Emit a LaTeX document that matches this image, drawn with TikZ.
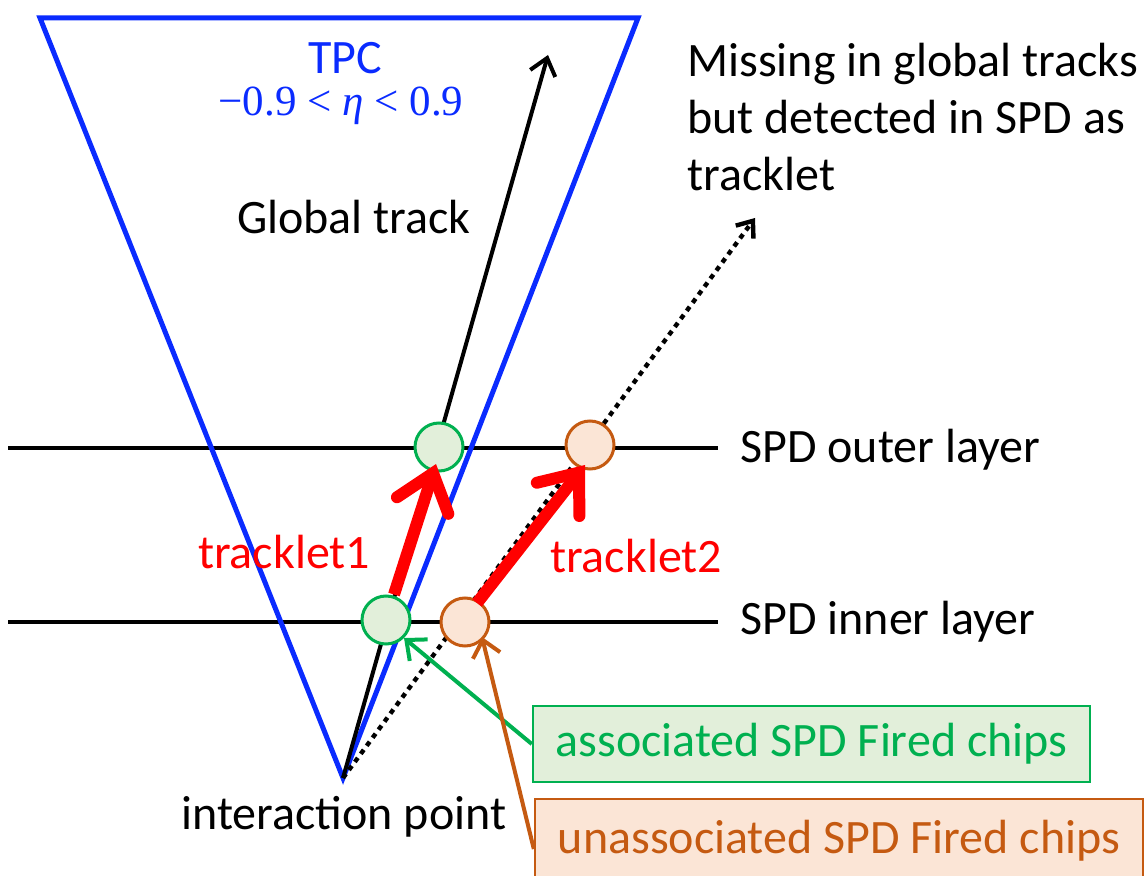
\documentclass[tikz,border=0pt]{standalone}
\usepackage{fontspec}
\setmainfont{Carlito}
\newfontfamily\tms{Liberation Serif}
\usetikzlibrary{arrows.meta}
\definecolor{tpcblue}{HTML}{0A2BFF}
\definecolor{grn}{HTML}{00B050}
\definecolor{grnfill}{HTML}{E2EFDA}
\definecolor{org}{HTML}{C55A11}
\definecolor{orgfill}{HTML}{FBE5D6}
\definecolor{tred}{HTML}{FF0000}
\tikzset{
  layer/.style={line width=2.2pt, black},
  tpc/.style={line width=2.5pt, tpcblue, line join=miter},
  chipg/.style={circle, draw=grn, fill=grnfill, line width=1.5pt, minimum size=24pt, inner sep=0pt},
  chipo/.style={circle, draw=org, fill=orgfill, line width=1.5pt, minimum size=24pt, inner sep=0pt},
  tracklet/.style={line width=6pt, tred, -{Straight Barb[length=17pt, width=27pt, line cap=round]}},
  lbl/.style={font=\fontsize{24}{28.5}\selectfont, inner sep=0pt},
  boxg/.style={draw=grn, fill=grnfill, line width=1.2pt, minimum width=278.5pt, minimum height=38pt, text=grn, font=\fontsize{24}{28.5}\selectfont},
  boxo/.style={draw=org, fill=orgfill, line width=1.2pt, minimum width=304pt, minimum height=42pt, text=org, font=\fontsize{24}{28.5}\selectfont},
}
\begin{document}
\begin{tikzpicture}[x=0.5pt, y=-0.5pt]
\useasboundingbox (0,0) rectangle (1144,876);
% layers
\coordinate (oL) at (8,448); \coordinate (oR) at (718,448);
\coordinate (iL) at (8,622); \coordinate (iR) at (718,622);
\draw[layer] (oL) -- (oR);
\draw[layer] (iL) -- (iR);
% TPC
\coordinate (tl) at (40,18); \coordinate (tr) at (638,18); \coordinate (ip) at (343,778);
\draw[tpc] (tl) -- (tr) -- (ip) -- cycle;
% tracks
\coordinate (gt) at (548,55);
\coordinate (mt) at (755,218);
\draw[line width=2pt, -{Straight Barb[length=8pt, width=13pt]}] (ip) -- (gt);
\draw[line width=2.2pt, dash pattern=on 2.5pt off 2.5pt, -{Straight Barb[length=7pt, width=11pt]}] (ip) -- (mt);
% chips
\node[chipg] (go) at (439,447) {};
\node[chipg] (gi) at (386,620) {};
\node[chipo] (oo) at (590,445) {};
\node[chipo] (oi) at (465,622) {};
% tracklets
\draw[tracklet] (gi.north) ++(8,0) coordinate (t1s) -- (436,464) coordinate (t1e);
\draw[tracklet] (477,603) coordinate (t2s) -- (585,465) coordinate (t2e);
% texts
\node[lbl, text=tpcblue] (tpc) at (345,58) {TPC};
\node[inner sep=0pt, text=tpcblue, font=\tms\fontsize{21.5}{26}\selectfont] (eta) at (341,106) {−0.9 < \textit{η} < 0.9};
\node[lbl] (glob) at (354,217) {Global track};
\node[lbl, anchor=west, align=left] (miss) at (687,117) {Missing in global tracks\\but detected in SPD as\\tracklet};
\node[lbl, text=tred] (tl1) at (284,552) {tracklet1};
\node[lbl, text=tred] (tl2) at (636,556) {tracklet2};
\node[lbl, anchor=west] (spdo) at (740,450) {SPD outer layer};
\node[lbl, anchor=west] (spdi) at (740,622) {SPD inner layer};
\node[lbl] (ipl) at (344,817) {interaction point};
% boxes
\node[boxg] (bg) at (811.5,744) {associated SPD Fired chips};
\node[boxo] (bo) at (839,841) {unassociated SPD Fired chips};
\draw[grn, line width=2pt, -{Straight Barb[length=8pt, width=14pt]}] (bg.west) -- (gi.south east);
\draw[org, line width=2pt, -{Straight Barb[length=8pt, width=14pt]}] ([yshift=-4pt]bo.west) -- (482,637);
\end{tikzpicture}
\end{document}
